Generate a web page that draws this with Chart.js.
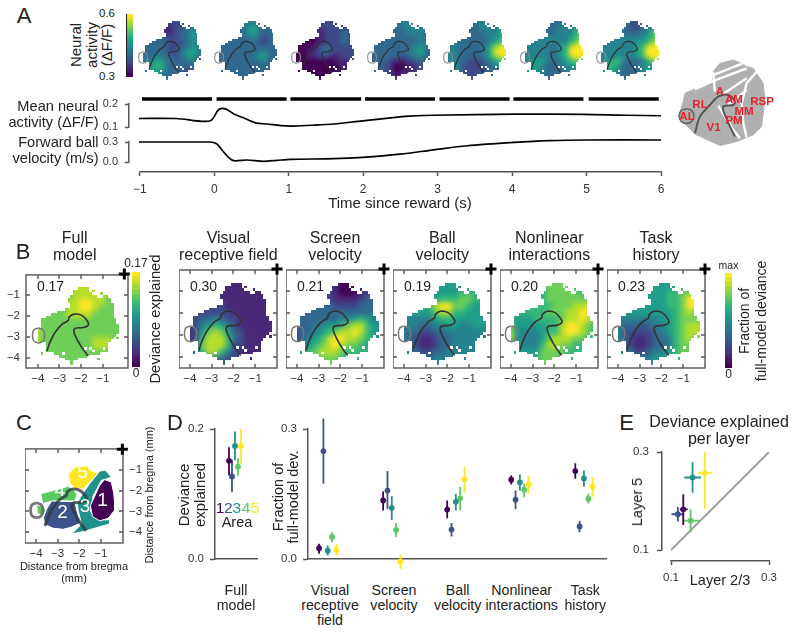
<!DOCTYPE html>
<html>
<head>
<meta charset="utf-8">
<title>Neural activity maps</title>
<script src="https://cdn.jsdelivr.net/npm/chart.js@4/dist/chart.umd.js"></script>
<style>
  html, body { margin: 0; background: #fff; }
  #fig { position: relative; width: 800px; height: 633px; overflow: hidden; font-family: "Liberation Sans", Arial, sans-serif; color: #222; }
  #fig canvas { position: absolute; }
  .lbl { position: absolute; white-space: pre; text-align: center; z-index: 5; }
</style>
</head>
<body>
<div id="fig"></div>
<script>
// --- time traces (panel A) ---
const meanTime = [-1, -0.5, -0.05, 0.07, 0.16, 0.27, 0.4, 0.56, 0.72, 0.9, 1.08, 1.4, 1.61, 2, 2.5, 2.63, 2.95, 4.07, 4.96, 5.54, 6];
const meanActivity = [0.137, 0.137, 0.126, 0.176, 0.179, 0.157, 0.14, 0.118, 0.113, 0.106, 0.104, 0.109, 0.113, 0.127, 0.144, 0.147, 0.151, 0.156, 0.155, 0.151, 0.149];
const ballTime = [-1, -0.05, 0.045, 0.11, 0.2, 0.27, 0.45, 0.67, 0.85, 1.03, 1.61, 2, 2.5, 2.95, 3.4, 4.03, 4.5, 5, 6];
const ballVelocity = [0.3, 0.3, 0.27, 0.183, 0.07, 0.02, 0.03, 0.01, 0.025, 0.04, 0.05, 0.07, 0.117, 0.183, 0.244, 0.294, 0.32, 0.33, 0.33];
const epochStart = [-0.96, 0.04, 1.03, 2.03, 3.03, 4.02, 5.03];
const epochEnd = [-0.02, 0.98, 1.98, 2.97, 3.97, 4.96, 5.97];
const timeTicks = [-1, 0, 1, 2, 3, 4, 5, 6];

// --- map grids: one digit (0-9 on the colormap) per cell, rows top to bottom ---
const gridX = [-4.3, -4, -3.7, -3.4, -3.1, -2.8, -2.5, -2.2, -1.9, -1.6, -1.3, -1, -0.7, -0.4, -0.1];
const gridY = [-0.5, -0.8, -1.1, -1.4, -1.7, -2, -2.3, -2.6, -2.9, -3.2, -3.5, -3.8, -4.1, -4.4];
const mapA1 = ['333322222222344','333322122223444','333322112233444','333322112334544','333333222334544','333333322234444','333333322334544','333333322345544','333344332345533','334455433334433','334566433333333','334555433322333','334444333322333','334443333322333'];
const mapA2 = ['333333344433333','333333344433333','333333345533333','333333345533333','333333334432333','333333333322333','333333333333333','333333333344333','333333333455333','333333333344333','333333333333333','333333333333333','333333333333333','333333333333333'];
const mapA3 = ['000011122222222','000011122222222','000011122222222','000011112223322','000000112223322','000000112223322','000001233222222','000011233222222','000011222112222','000000000011122','000000000001111','000000000001122','000000000001122','000000000001122'];
const mapA4 = ['333333334433333','333333334443333','333333334444433','333333333444433','333333333334433','333333333334433','333333333344533','333333333445533','333333332344433','333332111223322','333322000112222','333322001112222','333322111122222','333322111122222'];
const mapA5 = ['444433334443444','444433334443444','444433334443566','444433333444567','444433333344567','444433333345678','444433333457899','444433333458999','444433333457898','444433222345666','554432222234444','554432222233344','544432223333333','444432223333333'];
const mapA6 = ['444444333433455','444444333443455','444444333444567','444444334444678','444444444445678','444444444446789','444444434568999','444444434569999','444444434568999','444555433456766','455554333445555','455544333344444','444444333344444','444444333344444'];
const mapA7 = ['444444332333455','444444332233455','444444332233567','444444333344678','444444444445678','444444444556789','444444444568999','444444444569999','444445444568999','445566433345777','455665333345555','445554333345555','444444333444444','444444333444444'];
const mapFull = ['777777788887777','777777788887777','777777788888777','777777889988777','777777889987777','777777888877777','777777777777777','887777777777777','887777777777777','887777777788877','777777777788877','777777777777777','777777777777777','777777777777777'];
const mapVisual = ['111111111111111','111111111111111','111111111111111','111111111111111','222222211111111','222222221111111','222334322111111','222456542111111','112578753211111','112688863211111','223788862211111','223688642111111','223444322111111','223444322111111'];
const mapScreen = ['333332211001122','333332210001222','333332210001233','333332211112333','333333322223334','333333333333344','333333334456544','333344556788654','223345678898654','223456899887654','334567898776554','445678887666655','556777776666555','556777776666555'];
const mapBall = ['555555555555555','555555555555555','555555555566666','555555566677665','555566899776555','555555788665555','444444566555555','444433445544555','443322334444444','443211233444444','443211233444444','444322334444444','444433444444444','444433444444444'];
const mapNonlinear = ['666666677777666','666666677776666','666666677777666','666666677777777','666666667778887','666666677788998','665556666788987','775555566899876','885444566899876','885444578887766','665444688776666','665555777766666','666666777666666','666666777666666'];
const mapTask = ['555555555555555','555555555556666','555555555667777','555555555667998','555555555667998','555555555567877','444444445567777','443332344567888','443222234567888','443211233467877','443211233467776','444322344567766','444444455666666','444444455666666'];
const mapValues = ['0.17', '0.30', '0.21', '0.19', '0.20', '0.23'];
const mapTitles = ['Full\nmodel', 'Visual\nreceptive field', 'Screen\nvelocity', 'Ball\nvelocity', 'Nonlinear\ninteractions', 'Task\nhistory'];
const mapTicks = [-4, -3, -2, -1];

// --- outlines in mm from bregma ---
const brainOutline = [[-2.28,-0.73],[-1.67,-0.61],[-1.51,-0.96],[-1.13,-1.11],[-0.74,-0.96],[-0.51,-1.57],[-0.43,-2.25],[-0.17,-2.63],[-0.43,-3.01],[-0.82,-3.32],[-0.7,-3.7],[-1.28,-3.85],[-1.67,-3.93],[-2.13,-4.08],[-2.43,-4.2],[-3.2,-3.85],[-3.59,-3.7],[-3.66,-3.24],[-3.89,-3.29],[-4.03,-3.09],[-4.03,-2.71],[-3.93,-2.56],[-3.82,-2.18],[-3.43,-1.95],[-2.82,-1.72],[-2.51,-1.64],[-2.59,-1.19]];
const strayCells = [[-1.44,-0.81],[-1.06,-0.94],[-2.44,-4.31],[-1.19,-4.06],[-0.31,-3.06],[-3.81,-3.81]];
const holeCells = [[-1.81,-3.56],[-1.56,-3.56],[-1.44,-3.69],[-0.94,-3.56],[-2.81,-3.81]];
const v1Curve = [[-3.59,-3.7],[-3.43,-3.24],[-3.2,-2.79],[-2.89,-2.41],[-2.59,-2.22],[-2.56,-2.07],[-2.33,-1.92],[-1.97,-1.98],[-1.71,-2.25],[-1.67,-2.45],[-1.9,-2.56],[-2.28,-2.6],[-2.33,-2.79],[-2.13,-3.24],[-1.9,-3.62],[-1.67,-3.93]];
const alCircle = [[-3.97,-2.58],[-3.75,-2.68],[-3.69,-2.94],[-3.75,-3.2],[-3.97,-3.3],[-4.19,-3.2],[-4.25,-2.94],[-4.19,-2.68],[-3.97,-2.58]];

// --- panel C areas ---
const area1Shape = [[-0.82,-1.46],[-0.51,-1.58],[-0.4,-2.11],[-0.36,-2.57],[-0.36,-2.94],[-0.66,-3.33],[-1.05,-3.45],[-1.38,-3.25],[-1.48,-2.72],[-1.28,-2.26],[-1.05,-1.73],[-0.82,-1.46]];
const area2Shape = [[-3.28,-2.49],[-2.2,-2.53],[-2.09,-3.02],[-1.94,-3.56],[-2.35,-3.75],[-2.74,-3.86],[-3.2,-3.81],[-3.59,-3.63],[-3.66,-3.3],[-3.5,-2.87],[-3.28,-2.49]];
const area3Shape = [[-1.05,-1.05],[-0.77,-1.01],[-0.51,-1.35],[-0.97,-1.5],[-1.36,-2.26],[-1.48,-3.02],[-1.05,-3.4],[-0.59,-3.4],[-0.59,-3.6],[-1.28,-3.81],[-1.82,-3.97],[-2.35,-4.09],[-1.89,-3.6],[-2.05,-2.94],[-2.09,-2.57],[-1.82,-2.11],[-1.51,-1.65],[-1.05,-1.05]];
const area4Shape = [[-3.78,-2.14],[-3.12,-1.96],[-2.51,-1.78],[-2.25,-1.95],[-2.1,-2.2],[-2.2,-2.5],[-2.82,-2.48],[-3.35,-2.52],[-3.69,-2.62],[-3.78,-2.14]];
const area4Patch = [[-3.97,-2.69],[-3.66,-2.72],[-3.54,-2.94],[-3.66,-3.21],[-3.94,-3.1],[-3.97,-2.69]];
const area5Shape = [[-2.51,-1.2],[-2.2,-0.86],[-1.63,-0.77],[-1.54,-0.97],[-1.13,-1.16],[-1.51,-1.58],[-1.82,-1.93],[-2.2,-1.88],[-2.43,-1.65],[-2.51,-1.2]];
const areaColors = ['#440154', '#3b528b', '#21918c', '#5ec962', '#fde725'];

// --- panel D ---
const fullMean = [0.151, 0.127, 0.174, 0.142, 0.174];
const fullLow = [0.129, 0.103, 0.152, 0.128, 0.146];
const fullHigh = [0.172, 0.153, 0.196, 0.155, 0.2];
const fractionCategories = ['Visual\nreceptive\nfield', 'Screen\nvelocity', 'Ball\nvelocity', 'Nonlinear\ninteractions', 'Task\nhistory'];
const fractionMean = [[0.025,0.249,0.019,0.051,0.021],[0.135,0.158,0.118,0.067,-0.006],[0.114,0.068,0.132,0.14,0.184],[0.183,0.137,0.177,0.16,0.172],[0.203,0.075,0.186,0.139,0.167]];
const fractionLow = [[0.012,0.174,0.008,0.038,0.008],[0.112,0.115,0.09,0.051,-0.023],[0.094,0.052,0.112,0.112,0.153],[0.172,0.115,0.158,0.143,0.151],[0.185,0.062,0.167,0.128,0.144]];
const fractionHigh = [[0.035,0.324,0.031,0.062,0.035],[0.156,0.203,0.145,0.083,0.01],[0.135,0.083,0.15,0.166,0.212],[0.193,0.158,0.195,0.174,0.192],[0.221,0.088,0.204,0.151,0.189]];
const areaDodge = [-0.135, -0.0675, 0, 0.0675, 0.135];

// --- panel E ---
const layer23 = [0.125, 0.114, 0.144, 0.14, 0.169];
const layer23Low = [0.118, 0.101, 0.127, 0.124, 0.155];
const layer23High = [0.134, 0.127, 0.161, 0.159, 0.184];
const layer5 = [0.183, 0.173, 0.248, 0.16, 0.257];
const layer5Low = [0.151, 0.158, 0.217, 0.136, 0.184];
const layer5High = [0.214, 0.188, 0.279, 0.183, 0.3];
const identityLine = [0.1, 0.3];

// --- gray area map, top right ---
const grayOutline = [[-1.69,-0.59],[-2.34,-0.75],[-2.67,-1.15],[-2.67,-1.56],[-3.48,-1.97],[-4.05,-2.21],[-4.13,-2.62],[-4.33,-3.27],[-4.05,-3.71],[-3.56,-4.2],[-2.59,-4.65],[-2.34,-4.76],[-1.53,-4.57],[-0.72,-4.24],[-0.31,-3.84],[-0.15,-2.54],[-0.23,-1.72],[-0.72,-0.99],[-1.04,-0.91],[-1.28,-0.75],[-1.69,-0.59]];
const grayDividers = [
  [[-0.47,-1.07],[-1.04,-1.72],[-1.28,-2.7],[-1.2,-3.67],[-1.04,-4.36]],
  [[-2.67,-1.32],[-1.23,-0.75]],
  [[-3.56,-2.02],[-2.75,-1.64],[-1.04,-0.99]],
  [[-2.67,-1.15],[-2.59,-2.13]],
  [[-2.26,-2.29],[-1.04,-1.48]],
  [[-1.93,-2.78],[-1.04,-2.05]],
  [[-2.42,-2.83],[-1.69,-4],[-1.37,-4.4]]
];
const grayV1 = [[-3.56,-4.16],[-3.32,-3.35],[-2.83,-2.78],[-2.42,-2.37],[-1.93,-2.29],[-1.61,-2.62],[-1.69,-2.78],[-2.18,-2.86],[-2.1,-3.27],[-1.61,-4.33]];
const grayCircle = [[-3.97,-2.96],[-3.71,-3.06],[-3.61,-3.32],[-3.71,-3.58],[-3.97,-3.68],[-4.23,-3.58],[-4.33,-3.32],[-4.23,-3.06],[-3.97,-2.96]];

const colorbarSteps = [1, 0.95, 0.9, 0.85, 0.8, 0.75, 0.7, 0.65, 0.6, 0.55, 0.5, 0.45, 0.4, 0.35, 0.3, 0.25, 0.2, 0.15, 0.1, 0.05, 0];
const viridis = ['#440154', '#482878', '#3e4989', '#31688e', '#26828e', '#1f9e89', '#35b779', '#6ece58', '#b5de2b', '#fde725'];

const AXIS = '#555';
const fig = document.getElementById('fig');
Chart.defaults.font.family = '"Liberation Sans", Arial, sans-serif';
Chart.defaults.color = '#333';

function cmap(t) {
  const p = Math.max(0, Math.min(1, t)) * 9, i = Math.min(8, Math.floor(p)), f = p - i;
  const c = k => parseInt(viridis[i].substr(k, 2), 16) * (1 - f) + parseInt(viridis[i + 1].substr(k, 2), 16) * f;
  return `rgb(${c(1) | 0},${c(3) | 0},${c(5) | 0})`;
}

function label(text, x, y, size, o = {}) {
  const d = document.createElement('div');
  d.className = 'lbl';
  d.textContent = text;
  const tx = o.anchor === 'right' ? '-100%' : '-50%';
  d.style.cssText = `left:${x}px;top:${y}px;font-size:${size}px;line-height:${o.lh || 1.1};` +
    `transform:translate(${tx},-50%)${o.rot ? ' rotate(-90deg)' : ''};` +
    (o.anchor === 'right' ? 'text-align:right;' : '') + (o.color ? `color:${o.color};` : '') + (o.weight ? `font-weight:${o.weight};` : '');
  fig.appendChild(d);
}

// rect is the plot area on the page, margins the room left around it for axes
function makeChart(rect, margins, scales, datasets, plugins = [], extra = {}) {
  const [x, y, w, h] = rect.map(Math.round);
  const [l, t, r, b] = margins;
  const canvas = document.createElement('canvas');
  canvas.width = w + l + r;
  canvas.height = h + t + b;
  canvas.style.left = (x - l) + 'px';
  canvas.style.top = (y - t) + 'px';
  fig.appendChild(canvas);
  const pad = { left: l, top: t, right: r, bottom: b };
  Object.values(scales).forEach(s => {
    if (s.display === false || !s.position) return;
    const size = pad[s.position];
    pad[s.position] = 0;
    s.afterFit = a => { if (a.isHorizontal()) a.height = size; else a.width = size; };
  });
  return new Chart(canvas, {
    type: extra.type || 'scatter',
    data: { labels: extra.labels, datasets },
    options: {
      responsive: false, animation: false, events: [], devicePixelRatio: 1, indexAxis: extra.indexAxis,
      layout: { padding: pad, autoPadding: false },
      plugins: { legend: { display: false }, tooltip: { enabled: false } },
      scales
    },
    plugins
  });
}

const hidden = (min, max) => ({ type: 'linear', display: false, min, max });

function axis(position, min, max, ticks, o = {}) {
  return {
    type: 'linear', position, min, max,
    afterBuildTicks: s => { s.ticks = ticks.map(value => ({ value })); },
    border: { display: o.border !== false, color: AXIS, width: 1.5 },
    grid: { display: o.tickLen > 0, drawOnChartArea: false, drawTicks: o.tickLen > 0, tickLength: o.tickLen || 0, tickWidth: 1.5, tickColor: AXIS },
    ticks: {
      display: o.labels !== false, autoSkip: false, maxRotation: 0, minRotation: 0, padding: o.pad || 4,
      font: { size: o.size || 11.5 }, color: '#333',
      callback: v => v.toFixed(o.decimals || 0).replace('-', '\u2212')
    }
  };
}

const toXY = pts => pts.map(p => ({ x: p[0], y: p[1] }));
const curve = (pts, color, width, tension = 0.35) => ({ data: toXY(pts), showLine: true, pointRadius: 0, borderColor: color, borderWidth: width, tension, clip: false, order: 0 });
const plus = (radius, width) => ({ data: [{ x: 0, y: 0 }], pointStyle: 'cross', pointRadius: radius, pointBorderWidth: width, pointBorderColor: '#000', clip: false, order: 0 });

// jagged map mask in mm: fine cells whose centre is inside the outline
const maskStep = 0.125;
const maskCells = (() => {
  const inside = (x, y) => {
    let c = false;
    for (let i = 0, j = brainOutline.length - 1; i < brainOutline.length; j = i++) {
      const [xi, yi] = brainOutline[i], [xj, yj] = brainOutline[j];
      if ((yi > y) !== (yj > y) && x < (xj - xi) * (y - yi) / (yj - yi) + xi) c = !c;
    }
    return c;
  };
  const isHole = (x, y) => holeCells.some(h => Math.abs(h[0] - x) < 0.06 && Math.abs(h[1] - y) < 0.06);
  const cells = strayCells.slice();
  for (let y = -0.4375; y > -4.5; y -= maskStep) {
    for (let x = -4.4375; x < 0.1; x += maskStep) {
      if (inside(x, y) && !isHole(x, y)) cells.push([x, y]);
    }
  }
  return cells;
})();

function frameTicks(ctx, chart, xTicks, yTicks, len) {
  const { left, right, top, bottom } = chart.chartArea;
  ctx.save();
  ctx.strokeStyle = AXIS;
  ctx.lineWidth = 1.4;
  ctx.strokeRect(left, top, right - left, bottom - top);
  ctx.beginPath();
  xTicks.forEach(v => {
    const p = Math.round(chart.scales.x.getPixelForValue(v));
    ctx.moveTo(p, bottom); ctx.lineTo(p, bottom - len);
    ctx.moveTo(p, top); ctx.lineTo(p, top + len);
  });
  yTicks.forEach(v => {
    const p = Math.round(chart.scales.y.getPixelForValue(v));
    ctx.moveTo(left, p); ctx.lineTo(left + len, p);
    ctx.moveTo(right, p); ctx.lineTo(right - len, p);
  });
  ctx.stroke();
  ctx.restore();
}

// soften the coarse cells and cut them to the mask, right after the cells are drawn
function heatPlugin(blur, framed) {
  return {
    id: 'heat',
    afterDatasetDraw(chart, args) {
      if (args.index !== 0) return;
      const { ctx, canvas, chartArea: a, scales } = chart;
      const copy = document.createElement('canvas');
      copy.width = canvas.width;
      copy.height = canvas.height;
      copy.getContext('2d').drawImage(canvas, 0, 0);
      ctx.save();
      ctx.clearRect(a.left, a.top, a.right - a.left, a.bottom - a.top);
      ctx.beginPath();
      maskCells.forEach(([cx, cy]) => {
        const x0 = Math.round(scales.x.getPixelForValue(cx - maskStep / 2));
        const x1 = Math.round(scales.x.getPixelForValue(cx + maskStep / 2));
        const y0 = Math.round(scales.y.getPixelForValue(cy + maskStep / 2));
        const y1 = Math.round(scales.y.getPixelForValue(cy - maskStep / 2));
        ctx.rect(x0, y0, x1 - x0, y1 - y0);
      });
      ctx.clip();
      ctx.filter = `blur(${blur}px)`;
      ctx.drawImage(copy, 0, 0);
      ctx.restore();
      if (framed) frameTicks(ctx, chart, mapTicks, mapTicks, 4);
    }
  };
}

function heatCells(rows, pxPerMm) {
  const data = [], colors = [];
  rows.forEach((row, j) => gridX.forEach((x, i) => {
    data.push({ x, y: gridY[j] });
    colors.push(cmap(Number(row[i] ?? row[row.length - 1]) / 9));
  }));
  return { data, pointStyle: 'rect', pointRadius: 0.15 * pxPerMm * 1.25 / Math.SQRT1_2, pointBorderWidth: 0, pointBackgroundColor: colors, order: 9 };
}

function colorbar(rect, edge) {
  const scales = {
    x: hidden(0, 1),
    y: { type: 'category', display: edge, position: 'left', grid: { display: false }, ticks: { display: false }, border: { display: edge, color: '#222', width: 1.5 } }
  };
  makeChart(rect, [1, 0, 0, 0], scales, [{
    data: colorbarSteps.map(() => 1), backgroundColor: colorbarSteps.map(cmap), barPercentage: 1, categoryPercentage: 1, borderWidth: 0
  }], [], { type: 'bar', indexAxis: 'y', labels: colorbarSteps.map(String) });
}

// earlier datasets land on top, so each dot goes in before its error line
function errorMarks(xs, means, lows, highs, colors, horizontal) {
  const sets = [];
  xs.forEach((x, i) => {
    const seg = horizontal
      ? [{ x: horizontal.low[i], y: means[i] }, { x: horizontal.high[i], y: means[i] }, { x: NaN, y: NaN }, { x, y: lows[i] }, { x, y: highs[i] }]
      : [{ x, y: lows[i] }, { x, y: highs[i] }];
    sets.push({ data: [{ x, y: means[i] }], pointRadius: 2.9, pointBorderWidth: 0, pointBackgroundColor: colors[i], clip: false });
    sets.push({ data: seg, showLine: true, pointRadius: 0, borderColor: colors[i], borderWidth: 1.8, clip: false });
  });
  return sets;
}

/* ---------- panel A ---------- */
label('A', 24, 16, 22);
label('Neural\nactivity\n(\u0394F/F)', 90.5, 45, 15, { rot: true, lh: 1.04 });
label('0.6', 107, 13, 11.5);
label('0.3', 107, 76, 11.5);
colorbar([127, 14, 6, 63], true);

[mapA1, mapA2, mapA3, mapA4, mapA5, mapA6, mapA7].forEach((rows, k) => {
  const left = 133.8 + 76.4 * k;
  makeChart([left, 11.6, 73.6, 69.6], [0, 0, 0, 0], { x: hidden(-4.55, 0.17), y: hidden(-4.5, -0.04) }, [
    heatCells(rows, 15.6), curve(v1Curve, '#2d2d2d', 1.1), curve(alCircle, '#8a8a8a', 1.1)
  ], [heatPlugin(2, false)]);
});

const epochBars = [];
epochStart.forEach((s, i) => epochBars.push({ x: s, y: 0 }, { x: epochEnd[i], y: 0 }, { x: NaN, y: NaN }));
makeChart([139, 95, 522, 8], [0, 0, 0, 0], { x: hidden(-1, 6), y: hidden(-1, 1) }, [
  { data: epochBars, showLine: true, pointRadius: 0, borderColor: '#000', borderWidth: 3.6, borderCapStyle: 'butt' }
]);

label('Mean neural\nactivity (\u0394F/F)', 98.5, 114.5, 14.6, { anchor: 'right', lh: 1.14 });
label('Forward ball\nvelocity (m/s)', 98.5, 149.5, 14.6, { anchor: 'right', lh: 1.1 });
const tStart = -1 - 10 / 74.6;
makeChart([129, 104, 532, 23], [50, 16, 2, 16], {
  x: hidden(tStart, 6),
  y: axis('left', 0.1, 0.2, [0.1, 0.2], { tickLen: 4, pad: 7, decimals: 1, size: 11 })
}, [{ data: meanTime.map((x, i) => ({ x, y: meanActivity[i] })), showLine: true, pointRadius: 0, borderColor: '#000', borderWidth: 1.7, tension: 0.3, clip: false }]);
makeChart([129, 142, 532, 20], [50, 16, 2, 16], {
  x: hidden(tStart, 6),
  y: axis('left', 0, 0.3, [0, 0.3], { tickLen: 4, pad: 7, decimals: 1, size: 11 })
}, [{ data: ballTime.map((x, i) => ({ x, y: ballVelocity[i] })), showLine: true, pointRadius: 0, borderColor: '#000', borderWidth: 1.7, tension: 0.3, clip: false }]);
makeChart([139, 171, 522, 1], [12, 0, 12, 24], {
  x: axis('bottom', -1, 6, timeTicks, { tickLen: 4, pad: 6, size: 12 }),
  y: hidden(0, 1)
}, []);
label('Time since reward (s)', 400, 203, 15);

/* gray area map */
const grayData = [{ data: toXY(grayOutline), showLine: true, fill: 'shape', backgroundColor: '#b0b0b0', borderColor: '#b0b0b0', borderWidth: 1, pointRadius: 0, order: 5 }];
grayDividers.forEach(d => grayData.push({ ...curve(d, '#fff', 2.4, 0), order: 3 }));
grayData.push(curve(grayV1, '#555', 2, 0.3), curve(grayCircle, '#666', 1.6, 0.35));
makeChart([672, 55, 100, 95], [0, 0, 0, 0], { x: hidden(-4.68, 0.2), y: hidden(-4.98, -0.34) }, grayData);
[['A', 720, 91], ['RL', 700, 104], ['AM', 734, 99], ['RSP', 762, 101], ['MM', 744, 111], ['AL', 687, 116], ['PM', 734, 120], ['V1', 713.5, 127]].forEach(a => {
  label(a[0], a[1], a[2], 11.5, { color: '#e8212c', weight: 'bold' });
});

/* ---------- panel B ---------- */
label('B', 23, 252, 22);
const bFrames = [[26, 102, -4.55, 0.17], [179, 98, -4.5, 0], [286, 98, -4.5, 0], [393, 98, -4.5, 0], [500, 98, -4.5, 0], [607, 98, -4.5, 0]];
const bMaps = [mapFull, mapVisual, mapScreen, mapBall, mapNonlinear, mapTask];
const titleX = [74.7, 228.3, 335, 442.3, 549.3, 656];
bFrames.forEach(([left, width, xMin, xMax], k) => {
  const yScale = k === 0 ? axis('left', -4.5, -0.04, mapTicks, { pad: 6, border: false, size: 11.5 }) : hidden(-4.5, -0.04);
  makeChart([left, 270, width, 98], [k === 0 ? 24 : 0, 8, 8, 20], {
    x: axis('bottom', xMin, xMax, mapTicks, { pad: 4, border: false, size: 11.5 }),
    y: yScale
  }, [heatCells(bMaps[k], 21.8), curve(v1Curve, '#333', 1.6), curve(alCircle, '#777', 1.5), plus(5.5, 3)], [heatPlugin(2.8, true)]);
  label(mapTitles[k], titleX[k], 246.5, 16, { lh: 1.1 });
  label(mapValues[k], left + 24.5, 286.7, 14);
});
colorbar([132, 272, 8, 95], false);
label('0.17', 136, 263.5, 12);
label('0', 136, 373.5, 12);
label('Deviance explained', 155, 319, 14.8, { rot: true });
colorbar([725, 273, 7, 95], false);
label('max', 728.5, 265.5, 10.5);
label('0', 728.5, 374.5, 12);
label('Fraction of\nfull-model deviance', 753, 320.7, 14, { rot: true, lh: 1.22 });

/* ---------- panel C ---------- */
label('C', 24, 423, 22);
const cFrame = {
  id: 'cFrame',
  beforeDatasetsDraw(chart) { frameTicks(chart.ctx, chart, mapTicks, mapTicks, 4); }
};
const shapeSet = (pts, color) => ({ data: toXY(pts), showLine: true, fill: 'shape', backgroundColor: color, borderColor: '#fff', borderWidth: 1, pointRadius: 0, order: 5 });
makeChart([25, 444, 98, 99], [0, 8, 30, 20], {
  x: axis('bottom', -4.51, 0.03, mapTicks, { pad: 4, border: false, size: 11.5 }),
  y: axis('right', -4.52, 0.02, mapTicks, { pad: 6, border: false, size: 11.5 })
}, [
  curve(v1Curve, 'rgba(50,60,60,0.8)', 3), curve(alCircle, 'rgba(110,110,110,0.95)', 2.8), plus(5.5, 3),
  shapeSet(area1Shape, areaColors[0]), shapeSet(area5Shape, areaColors[4]), shapeSet(area2Shape, areaColors[1]),
  shapeSet(area4Patch, areaColors[3]), shapeSet(area4Shape, areaColors[3]), shapeSet(area3Shape, areaColors[2])
], [cFrame]);
label('Distance from bregma\n(mm)', 74, 572, 11, { lh: 1.1 });
label('Distance from bregma (mm)', 148.5, 494.5, 11, { rot: true });
[['1', 102.5, 499.5], ['2', 62.5, 512], ['3', 85, 505.5], ['4', 60, 490], ['5', 82.5, 472]].forEach(a => {
  label(a[0], a[1], a[2], 19, { color: '#fff' });
});

/* ---------- panel D ---------- */
label('D', 175, 423, 22);
makeChart([215, 429, 43, 130], [46, 16, 0, 16], {
  x: { ...axis('bottom', -0.45, 0.518, [], { labels: false }), position: undefined },
  y: axis('left', 0, 0.2, [0, 0.2], { tickLen: 5, pad: 6, decimals: 1, size: 11.5 })
}, errorMarks(areaDodge, fullMean, fullLow, fullHigh, areaColors));
label('Deviance\nexplained', 192, 495, 15, { rot: true, lh: 1.05 });
['1', '2', '3', '4', '5'].forEach((d, i) => label(d, [220, 228.3, 236.7, 246, 255][i], 508, 15.5, { color: areaColors[i] }));
label('Area', 237, 523, 14.5);
label('Full\nmodel', 236, 598, 14.2, { lh: 1.08 });

const fractionMarks = [];
fractionCategories.forEach((c, g) => {
  fractionMarks.push(...errorMarks(areaDodge.map(d => g + d), fractionMean[g], fractionLow[g], fractionHigh[g], areaColors));
});
makeChart([308, 429, 299, 130], [46, 16, 0, 22], {
  x: { ...axis('bottom', -0.308, 4.36, [], { labels: false }), position: undefined },
  y: axis('left', 0, 0.3, [0, 0.3], { tickLen: 5, pad: 6, decimals: 1, size: 11.5 })
}, fractionMarks);
label('Fraction of\nfull-model dev.', 285.5, 497, 14.5, { rot: true, lh: 1.05 });
const catX = [330, 394, 457.7, 521.7, 585.3];
const catY = [605.5, 598, 598, 598, 598];
fractionCategories.forEach((c, g) => label(c, catX[g], catY[g], 14.2, { lh: 1.08 }));

/* ---------- panel E ---------- */
label('E', 626.7, 423, 22);
label('Deviance explained\nper layer', 719, 429.5, 16, { lh: 1.08 });
makeChart([671, 452, 98, 98], [0, 0, 2, 2], { x: hidden(0.1, 0.3), y: hidden(0.1, 0.3) }, [
  { data: identityLine.map(v => ({ x: v, y: v })), showLine: true, pointRadius: 0, borderColor: '#999', borderWidth: 1.8, clip: false, order: 9 },
  ...errorMarks(layer23, layer5, layer5Low, layer5High, areaColors, { low: layer23Low, high: layer23High })
]);
makeChart([662, 452, 1, 98], [30, 16, 0, 16], {
  x: hidden(0, 1),
  y: axis('left', 0.1, 0.3, [0.1, 0.3], { tickLen: 5, pad: 8, decimals: 1, size: 11.5 })
}, []);
makeChart([671, 560, 98, 1], [14, 0, 14, 26], {
  x: axis('bottom', 0.1, 0.3, [0.1, 0.3], { tickLen: 4, pad: 6, decimals: 1, size: 11.5 }),
  y: hidden(0, 1)
}, []);
label('Layer 2/3', 720, 580.7, 14.5);
label('Layer 5', 638, 501.7, 14.5, { rot: true });
</script>
</body>
</html>
